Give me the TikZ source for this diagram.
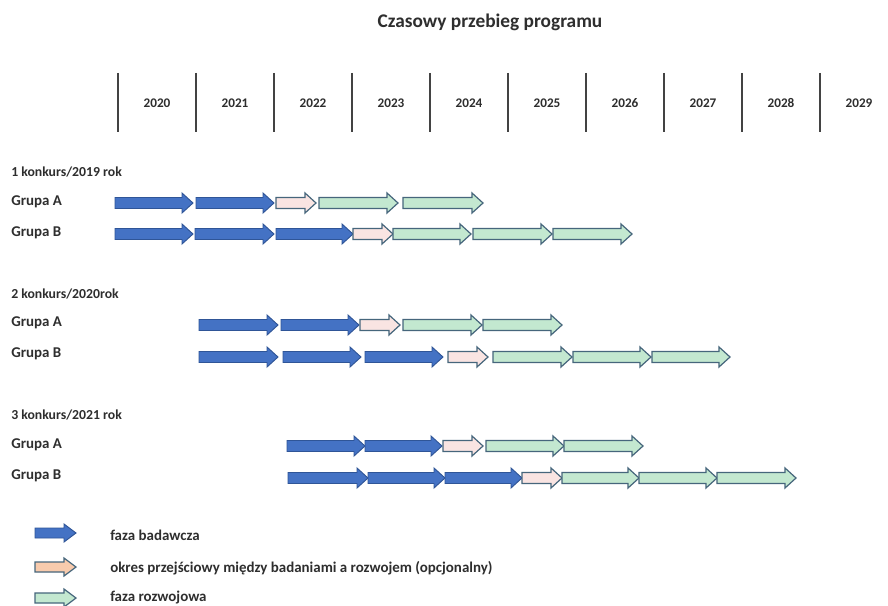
\documentclass[tikz,border=0pt]{standalone}
\usepackage{fontspec}
\setmainfont{Carlito}
\definecolor{txt}{HTML}{2E2E2E}
\definecolor{bfill}{HTML}{4472C4}
\definecolor{bline}{HTML}{2F5597}
\definecolor{pfill}{HTML}{F9E4E2}
\definecolor{lpfill}{HTML}{F8CBAD}
\definecolor{gfill}{HTML}{C3E8D0}
\definecolor{oline}{HTML}{46667C}
\tikzset{
  bar/.style={fill=bfill,draw=bline,line width=0.7pt,line join=miter},
  trans/.style={fill=pfill,draw=oline,line width=0.9pt,line join=miter},
  ltrans/.style={fill=lpfill,draw=oline,line width=0.9pt,line join=miter},
  dev/.style={fill=gfill,draw=oline,line width=0.9pt,line join=miter},
  yearline/.style={draw=txt!90,line width=1.1pt},
  yeartext/.style={text=txt,font=\fontsize{9.9pt}{11pt}\selectfont\bfseries,inner sep=0pt},
  seclabel/.style={text=txt,anchor=west,font=\fontsize{10.3pt}{12pt}\selectfont\bfseries,inner sep=0pt},
  grplabel/.style={text=txt,anchor=west,font=\fontsize{11.2pt}{13pt}\selectfont\bfseries,inner sep=0pt},
  legtext/.style={text=txt,anchor=west,font=\fontsize{11.2pt}{13pt}\selectfont\bfseries,inner sep=0pt},
}
% #1 style, #2 x start, #3 x end, #4 y centre
\newcommand{\tarrow}[4]{\draw[#1] (#2,{#4-5.5}) -- ({#3-11},{#4-5.5}) -- ({#3-11},{#4-10}) -- (#3,#4) -- ({#3-11},{#4+10}) -- ({#3-11},{#4+5.5}) -- (#2,{#4+5.5}) -- cycle;}
\newcommand{\larrow}[4]{\draw[#1] (#2,{#4-5}) -- ({#3-12},{#4-5}) -- ({#3-12},{#4-9}) -- (#3,#4) -- ({#3-12},{#4+9}) -- ({#3-12},{#4+5}) -- (#2,{#4+5}) -- cycle;}
\begin{document}
\begin{tikzpicture}[x=0.75pt,y=-0.75pt]
\useasboundingbox (0,0) rectangle (888,606);
\fill[white] (0,0) rectangle (888,606);
% title
\node[text=txt,font=\fontsize{14.5pt}{16pt}\selectfont\bfseries,inner sep=0pt] (title) at (490,22) {Czasowy przebieg programu};
% year scale
\foreach \i/\yr in {0/2020,1/2021,2/2022,3/2023,4/2024,5/2025,6/2026,7/2027,8/2028,9/2029}{
  \coordinate (lt\i) at ({118+78*\i},73);
  \coordinate (lb\i) at ({118+78*\i},132);
  \draw[yearline] (lt\i) -- (lb\i);
  \node[yeartext] (y\yr) at ({157+78*\i},103) {\yr};
}
% section 1
\node[seclabel] (s1) at (11,172) {1 konkurs/2019 rok};
\node[grplabel] (s1a) at (11,202) {Grupa A};
\node[grplabel] (s1b) at (11,233) {Grupa B};
\tarrow{bar}{115}{193}{203}
\tarrow{bar}{196}{274}{203}
\tarrow{trans}{276}{316}{203}
\tarrow{dev}{319}{398}{203}
\tarrow{dev}{403}{483}{203}
\tarrow{bar}{115}{193}{234}
\tarrow{bar}{195}{274}{234}
\tarrow{bar}{276}{353}{234}
\tarrow{trans}{353}{393}{234}
\tarrow{dev}{393}{471}{234}
\tarrow{dev}{473}{552}{234}
\tarrow{dev}{553}{632}{234}
% section 2
\node[seclabel] (s2) at (11,294) {2 konkurs/2020rok};
\node[grplabel] (s2a) at (11,323) {Grupa A};
\node[grplabel] (s2b) at (11,354) {Grupa B};
\tarrow{bar}{199}{278}{325}
\tarrow{bar}{281}{359}{325}
\tarrow{trans}{360}{400}{325}
\tarrow{dev}{403}{482}{325}
\tarrow{dev}{483}{562}{325}
\tarrow{bar}{199}{278}{357}
\tarrow{bar}{283}{361}{357}
\tarrow{bar}{365}{443}{357}
\tarrow{trans}{448}{488}{357}
\tarrow{dev}{493}{572}{357}
\tarrow{dev}{573}{651}{357}
\tarrow{dev}{652}{730}{357}
% section 3
\node[seclabel] (s3) at (11,415) {3 konkurs/2021 rok};
\node[grplabel] (s3a) at (11,445) {Grupa A};
\node[grplabel] (s3b) at (11,476) {Grupa B};
\tarrow{bar}{287}{365}{446}
\tarrow{bar}{365}{442}{446}
\tarrow{trans}{443}{483}{446}
\tarrow{dev}{486}{564}{446}
\tarrow{dev}{564}{643}{446}
\tarrow{bar}{288}{368}{478}
\tarrow{bar}{368}{445}{478}
\tarrow{bar}{445}{522}{478}
\tarrow{trans}{522}{562}{478}
\tarrow{dev}{562}{639}{478}
\tarrow{dev}{639}{717}{478}
\tarrow{dev}{717}{796}{478}
% legend
\larrow{bar}{35}{76}{533}
\larrow{ltrans}{35}{76}{567}
\larrow{dev}{35}{76}{598}
\node[legtext] (l1) at (110,535) {faza badawcza};
\node[legtext] (l2) at (110,568) {okres przejściowy między badaniami a rozwojem (opcjonalny)};
\node[legtext] (l3) at (110,598) {faza rozwojowa};
\end{tikzpicture}
\end{document}
